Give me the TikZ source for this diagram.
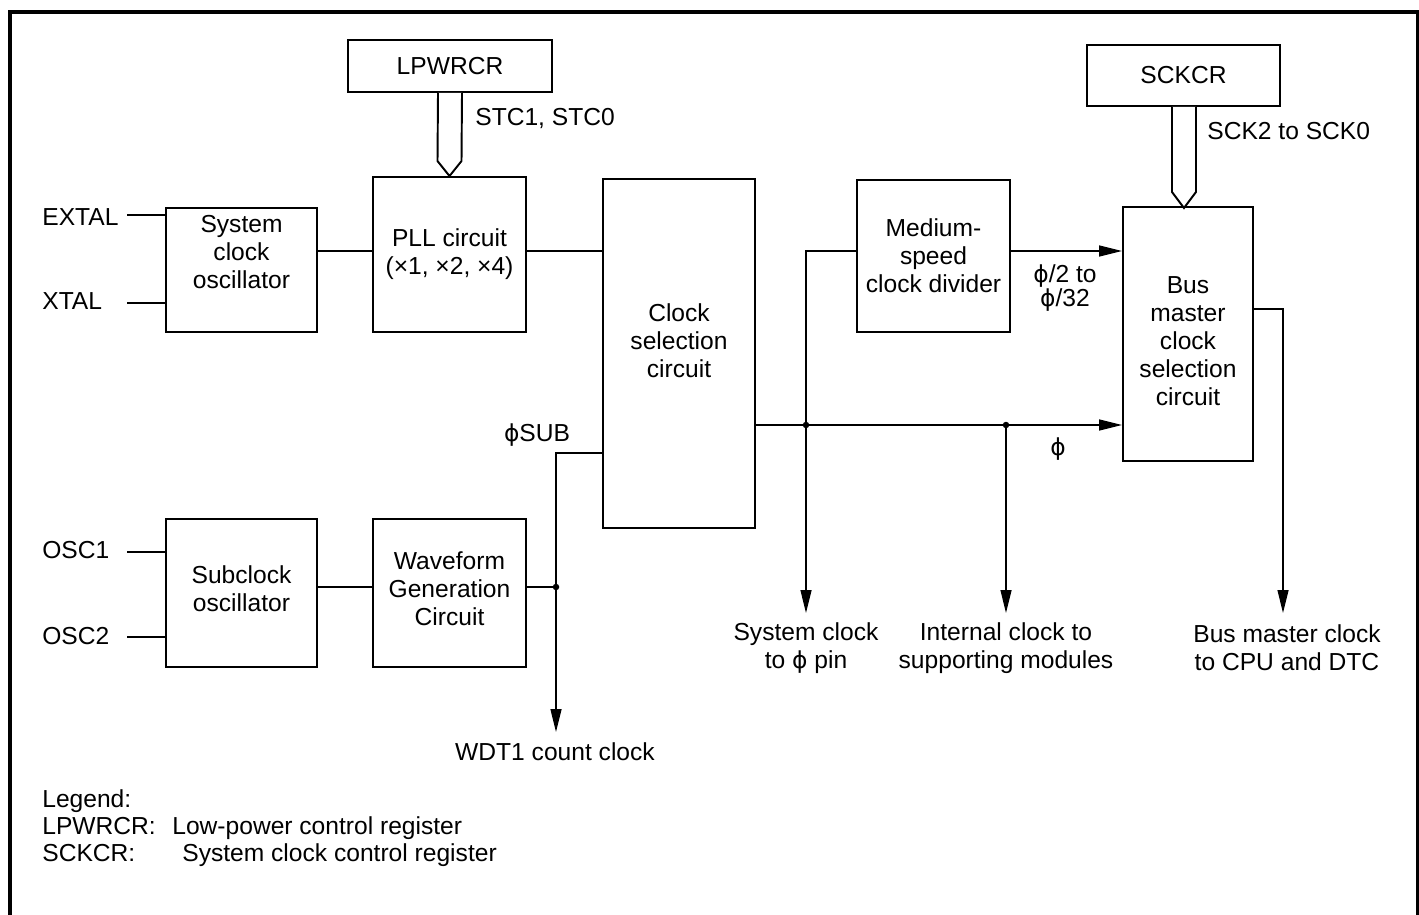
\documentclass[tikz,border=0pt]{standalone}
\usepackage{fontspec}
\setmainfont{Liberation Sans}
\newfontfamily\phifont[Scale=0.95]{DejaVu Sans}
\usetikzlibrary{calc,positioning,arrows.meta}
\newcommand{\diagfont}{\fontsize{14}{16}\selectfont}
\newcommand{\ph}{{\phifont\symbol{"03D5}}}

\begin{document}
\begin{tikzpicture}[
  x=0.02cm, y=-0.02cm,
  every node/.style={font=\diagfont},
  blk/.style={draw, line width=1.1pt, align=center, inner sep=0pt},
  txt/.style={inner sep=0pt, align=center},
  pin/.style={inner sep=0pt, anchor=west},
  legtxt/.style={inner sep=0pt, anchor=base west},
  wire/.style={line width=0.75pt},
  sig/.style={wire, -{Triangle[length=4.6mm,width=2.2mm]}},
  regbus/.style={line width=1.1pt, fill=white},
  dot/.style={circle, fill, inner sep=0pt, minimum size=0.13cm}
]
\useasboundingbox (0,0) rectangle (1419,915);
\draw[line width=2.3pt] (10,915) -- (10,12) -- (1417.5,12) -- (1417.5,915);

% registers
\node[blk, minimum width=4.08cm, minimum height=1.04cm] (lpwrcr) at (450,66) {LPWRCR};
\node[blk, minimum width=3.86cm, minimum height=1.22cm] (sckcr) at (1183.5,75.5) {SCKCR};

% blocks
\node[blk, minimum width=3.02cm, minimum height=2.48cm,
  label={[txt, yshift=0.36cm]center:{System\\clock\\oscillator}}] (sysosc) at (241.5,270) {};
\node[blk, minimum width=3.06cm, minimum height=3.10cm] (pll) at (449.5,254.5) {PLL circuit\\(×1, ×2, ×4)};
\node[blk, minimum width=3.04cm, minimum height=6.98cm,
  label={[txt, yshift=0.26cm]center:{Clock\\selection\\circuit}}] (clksel) at (679,353.5) {};
\node[blk, minimum width=3.06cm, minimum height=3.04cm] (mdiv) at (933.5,256) {Medium-\\speed\\clock divider};
\node[blk, minimum width=2.60cm, minimum height=5.08cm,
  label={[txt, yshift=-0.14cm]center:{Bus\\master\\clock\\selection\\circuit}}] (busmcs) at (1188,334) {};
\node[blk, minimum width=3.02cm, minimum height=2.96cm,
  label={[txt, yshift=0.08cm]center:{Subclock\\oscillator}}] (subosc) at (241.5,593) {};
\node[blk, minimum width=3.06cm, minimum height=2.96cm,
  label={[txt, yshift=0.08cm]center:{Waveform\\Generation\\Circuit}}] (wavegen) at (449.5,593) {};

% pins
\node[pin] (extal) at (42,217) {EXTAL};
\node[pin] (xtal) at (42,301) {XTAL};
\node[pin] (osc1) at (42,550) {OSC1};
\node[pin] (osc2) at (42,636) {OSC2};
\coordinate (extalpin) at (127,215);
\coordinate (xtalpin) at (127,303);
\coordinate (osc1pin) at (127,552);
\coordinate (osc2pin) at (127,637);
\draw[wire] (extalpin) -- (extalpin -| sysosc.west);
\draw[wire] (xtalpin) -- (xtalpin -| sysosc.west);
\draw[wire] (osc1pin) -- (osc1pin -| subosc.west);
\draw[wire] (osc2pin) -- (osc2pin -| subosc.west);

% register fields
\coordinate (scktip) at (1184,208);
\draw[regbus] ($(lpwrcr.south)+(-12,0)$) -- ($(pll.north)+(-12,-15)$) -- (pll.north)
  -- ($(pll.north)+(12,-15)$) -- ($(lpwrcr.south)+(12,0)$);
\draw[regbus] ($(scktip |- sckcr.south)+(-12,0)$) -- ($(scktip)+(-12,-16)$) -- (scktip)
  -- ($(scktip)+(12,-16)$) -- ($(scktip |- sckcr.south)+(12,0)$);
\node[pin] (stc) at (475,118) {STC1, STC0};
\node[pin] (sck) at (1207,131) {SCK2 to SCK0};

% clock paths
\coordinate (jpin) at (806,425);
\coordinate (jint) at (1006,425);
\coordinate (jsub) at (556,587);
\coordinate (cpuout) at (1283,613);
\draw[wire] (sysosc.east |- 0,251) -- (pll.west |- 0,251);
\draw[wire] (pll.east |- 0,251) -- (clksel.west |- 0,251);
\draw[sig] (clksel.east |- jpin) -- (busmcs.west |- jpin);
\draw[wire] (jpin) |- (mdiv.west |- 0,251);
\draw[sig] (mdiv.east |- 0,251) -- (busmcs.west |- 0,251);
\draw[sig] (jpin) -- ++(0,188);
\draw[sig] (jint) -- ++(0,188);
\draw[sig] (busmcs.east |- 0,309) -| (cpuout);
\draw[wire] (subosc.east |- jsub) -- (wavegen.west |- jsub);
\draw[wire] (wavegen.east |- jsub) -- (jsub);
\draw[wire] (clksel.west |- 0,453) -| (jsub);
\draw[sig] (jsub) -- ++(0,145);
\node[dot] (dpin) at (jpin) {};
\node[dot] (dint) at (jint) {};
\node[dot] (dsub) at (jsub) {};

% signal labels
\node[txt, font=\fontsize{14}{13.5}\selectfont] (divlbl) at (1065,288) {\ph/2 to\\\ph/32};
\node[txt] (philbl) at (1058,449) {\ph};
\node[txt] (sublbl) at (537,435) {\ph SUB};
\node[txt] (pinlbl) at (806,648) {System clock\\to \ph{} pin};
\node[txt] (intlbl) at (1006,648) {Internal clock to\\supporting modules};
\node[txt] (cpulbl) at (1287,648) {Bus master clock\\to CPU and DTC};
\node[txt] (wdtlbl) at (555,752) {WDT1 count clock};

% legend
\node[legtxt] (leg) at (42,807) {Legend:};
\node[legtxt] (leglp) at (42,834) {LPWRCR:};
\node[legtxt] (leglpt) at (172,834) {Low-power control register};
\node[legtxt] (legsc) at (42,861) {SCKCR:};
\node[legtxt] (legsct) at (182,861) {System clock control register};
\end{tikzpicture}
\end{document}
